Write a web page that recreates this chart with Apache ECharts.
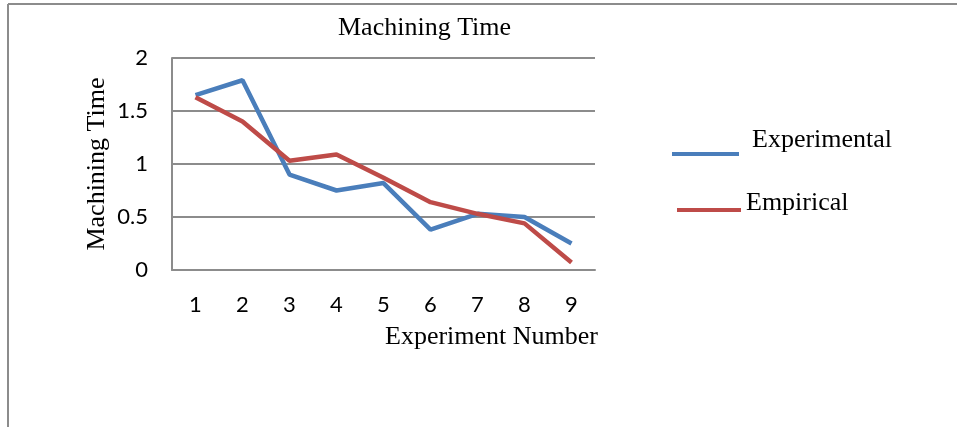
<!DOCTYPE html>
<html>
<head>
<meta charset="utf-8">
<script src="https://cdn.jsdelivr.net/npm/echarts@6/dist/echarts.min.js"></script>
<style>
  html, body { margin: 0; padding: 0; background: #fff; }
  #main { width: 957px; height: 427px; }
</style>
</head>
<body>
<div id="main"></div>
<script>
// data
var experiments = ['1', '2', '3', '4', '5', '6', '7', '8', '9'];
var experimental = [1.65, 1.79, 0.90, 0.75, 0.82, 0.38, 0.53, 0.50, 0.25];
var empirical = [1.63, 1.40, 1.03, 1.09, 0.87, 0.64, 0.53, 0.44, 0.07];

var serif = '"Liberation Serif", "Times New Roman", serif';
var sans = 'Lato, "Open Sans", sans-serif';
var gridColor = '#8c8c8c';

var chart = echarts.init(document.getElementById('main'));

chart.setOption({
    backgroundColor: '#fff',
    animation: false,
    title: {
        text: 'Machining Time',
        left: 333,
        top: 10,
        textStyle: { fontFamily: serif, fontSize: 26, fontWeight: 'normal', color: '#000' }
    },
    legend: [{
        data: ['Experimental'],
        left: 667,
        top: 122,
        icon: 'rect',
        itemWidth: 67,
        itemHeight: 4,
        itemGap: 0,
        formatter: '{t|{name}}',
        textStyle: {
            rich: { t: { fontFamily: serif, fontSize: 26, color: '#000', padding: [0, 0, 28, 8] } }
        }
    }, {
        data: ['Empirical'],
        left: 672,
        top: 185,
        icon: 'rect',
        itemWidth: 64,
        itemHeight: 4,
        itemGap: 0,
        formatter: '{t|{name}}',
        textStyle: {
            rich: { t: { fontFamily: serif, fontSize: 26, color: '#000', padding: [0, 0, 14, 0] } }
        }
    }],
    graphic: [
        // outer frame (top and left edges)
        { type: 'line', shape: { x1: 8, y1: 4, x2: 957, y2: 4 }, style: { stroke: '#8c8c8c', lineWidth: 2 } },
        { type: 'line', shape: { x1: 8, y1: 4, x2: 8, y2: 427 }, style: { stroke: '#8c8c8c', lineWidth: 2 } }
    ],
    grid: {
        left: 172,
        top: 58,
        width: 423,
        height: 212,
        containLabel: false
    },
    xAxis: {
        type: 'category',
        data: experiments,
        boundaryGap: true,
        name: 'Experiment Number',
        nameLocation: 'middle',
        nameGap: 54,
        nameTextStyle: { fontFamily: serif, fontSize: 26, color: '#000', padding: [0, 0, 0, 216] },
        axisLine: { lineStyle: { color: gridColor, width: 2 } },
        axisTick: { show: false },
        axisLabel: { fontFamily: sans, fontSize: 22, color: '#000', margin: 24 }
    },
    yAxis: {
        type: 'value',
        min: 0,
        max: 2,
        interval: 0.5,
        name: 'Machining Time',
        nameLocation: 'middle',
        nameGap: 62,
        nameTextStyle: { fontFamily: serif, fontSize: 26, color: '#000' },
        axisLine: { show: true, lineStyle: { color: gridColor, width: 2 } },
        axisTick: { show: false },
        axisLabel: { fontFamily: sans, fontSize: 22, color: '#000', margin: 24 },
        splitLine: { lineStyle: { color: gridColor, width: 2 } }
    },
    series: [{
        name: 'Experimental',
        type: 'line',
        data: experimental,
        showSymbol: false,
        symbol: 'none',
        color: '#4a7ebb',
        lineStyle: { width: 4.5, color: '#4a7ebb' }
    }, {
        name: 'Empirical',
        type: 'line',
        data: empirical,
        showSymbol: false,
        symbol: 'none',
        color: '#be4b48',
        lineStyle: { width: 4.5, color: '#be4b48' }
    }]
});
</script>
</body>
</html>
